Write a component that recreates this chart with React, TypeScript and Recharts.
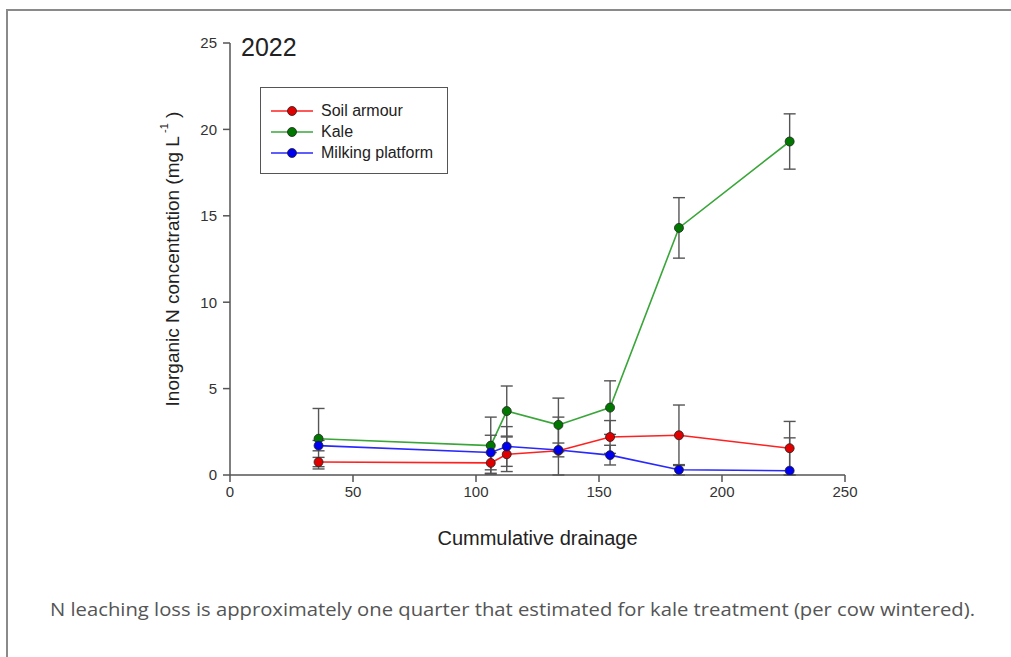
import React from 'react';
import { LineChart, Line, XAxis, YAxis, ErrorBar, Legend } from 'recharts';

// cumulative drainage at each sampling date
const drainage = [36, 106, 112.5, 133.5, 154.5, 182.5, 227.5];

const soilArmour = [0.75, 0.7, 1.2, 1.4, 2.2, 2.3, 1.55];
const soilArmourErr = [0.27, 0.6, 1.0, 1.95, 0.95, 1.75, 1.55];

const kale = [2.1, 1.7, 3.7, 2.9, 3.9, 14.3, 19.3];
const kaleErr = [1.75, 1.65, 1.45, 1.55, 1.55, 1.75, 1.6];

const milking = [1.7, 1.3, 1.65, 1.45, 1.15, 0.3, 0.25];
const milkingErr = [0.3, 1.0, 1.15, 0.4, 0.57, 0.3, 1.9];

const xTicks = [0, 50, 100, 150, 200, 250];
const yTicks = [0, 5, 10, 15, 20, 25];

// lower whisker stops at the x axis, like the original plot
const toRows = (values: number[], errors: number[]) =>
  drainage.map((x, i) => ({ x, y: values[i], err: [Math.min(errors[i], values[i]), errors[i]] }));

const series = [
  { name: 'Soil armour', rows: toRows(soilArmour, soilArmourErr), line: '#ff2020', dot: '#e00000' },
  { name: 'Kale', rows: toRows(kale, kaleErr), line: '#3aa63a', dot: '#007800' },
  { name: 'Milking platform', rows: toRows(milking, milkingErr), line: '#2828ff', dot: '#0000f0' },
];

const font = '"Liberation Sans", Arial, sans-serif';

const LegendBox = () => (
  <div
    style={{
      position: 'relative',
      width: 186,
      height: 85,
      border: '1px solid #555',
      background: '#fff',
      fontFamily: font,
      fontSize: 16,
      color: '#222',
    }}
  >
    {series.map((s, i) => (
      <div key={s.name} style={{ position: 'absolute', left: 9, top: 13 + i * 21, height: 20, display: 'flex', alignItems: 'center' }}>
        <svg width={44} height={12} style={{ marginRight: 7 }}>
          <line x1={1} y1={6} x2={43} y2={6} stroke={s.line} strokeWidth={1.5} />
          <circle cx={22} cy={6} r={4.5} fill={s.dot} stroke="#222" strokeWidth={0.8} />
        </svg>
        <span>{s.name}</span>
      </div>
    ))}
  </div>
);

const YTitle = (props: any) => {
  const vb = props.viewBox || { y: 43, height: 432 };
  const cx = 172;
  const cy = vb.y + vb.height / 2;
  return (
    <text
      x={cx}
      y={cy}
      transform={`rotate(-90, ${cx}, ${cy})`}
      textAnchor="middle"
      dominantBaseline="central"
      fontFamily={font}
      fontSize={19}
      fill="#222"
    >
      Inorganic N concentration (mg L
      <tspan dy={-8} fontSize={11}> -1</tspan>
      <tspan dy={8}> )</tspan>
    </text>
  );
};

export default function App() {
  return (
    <div style={{ position: 'absolute', left: 0, top: 0, width: 1011, height: 657, overflow: 'hidden', background: '#fff' }}>
      <div
        style={{
          position: 'absolute',
          left: 6,
          top: 9,
          width: 1100,
          height: 700,
          borderTop: '2px solid #8a8a8a',
          borderLeft: '2px solid #8a8a8a',
        }}
      />
      <LineChart width={1011} height={657} margin={{ top: 43, right: 166, bottom: 152, left: 170 }}>
        <XAxis
          dataKey="x"
          type="number"
          domain={[0, 250]}
          ticks={xTicks}
          allowDataOverflow
          height={30}
          stroke="#555"
          strokeWidth={1.5}
          tickSize={7}
          tickMargin={4}
          tick={{ fill: '#333', fontSize: 15, fontFamily: font }}
          label={{ value: 'Cummulative drainage', position: 'bottom', offset: 26, fill: '#222', fontSize: 20, fontFamily: font }}
        />
        <YAxis
          type="number"
          domain={[0, 25]}
          ticks={yTicks}
          allowDataOverflow
          width={60}
          stroke="#555"
          strokeWidth={1.5}
          tickSize={7}
          tickMargin={6}
          tick={{ fill: '#333', fontSize: 15, fontFamily: font }}
          label={{ content: <YTitle /> }}
        />
        <Legend
          layout="vertical"
          align="center"
          verticalAlign="middle"
          content={<LegendBox />}
          wrapperStyle={{ left: 260, top: 87, width: 188, height: 87 }}
        />
        {series.map((s) => (
          <Line
            key={s.name}
            name={s.name}
            data={s.rows}
            dataKey="y"
            stroke={s.line}
            strokeWidth={1.6}
            dot={{ r: 4.5, fill: s.dot, stroke: '#222', strokeWidth: 0.8 }}
            activeDot={false}
            isAnimationActive={false}
          >
            <ErrorBar dataKey="err" direction="y" width={6} stroke="#555" strokeWidth={1.4} />
          </Line>
        ))}
      </LineChart>
      <div style={{ position: 'absolute', left: 241, top: 33, fontFamily: font, fontSize: 25, color: '#222' }}>2022</div>
      <svg style={{ position: 'absolute', left: 0, top: 588 }} width={1011} height={44}>
        <text x={50} y={28} textLength={925} lengthAdjust="spacingAndGlyphs" fontFamily='"Open Sans", sans-serif' fontSize={18} fill="#555">
          N leaching loss is approximately one quarter that estimated for kale treatment (per cow wintered).
        </text>
      </svg>
    </div>
  );
}
